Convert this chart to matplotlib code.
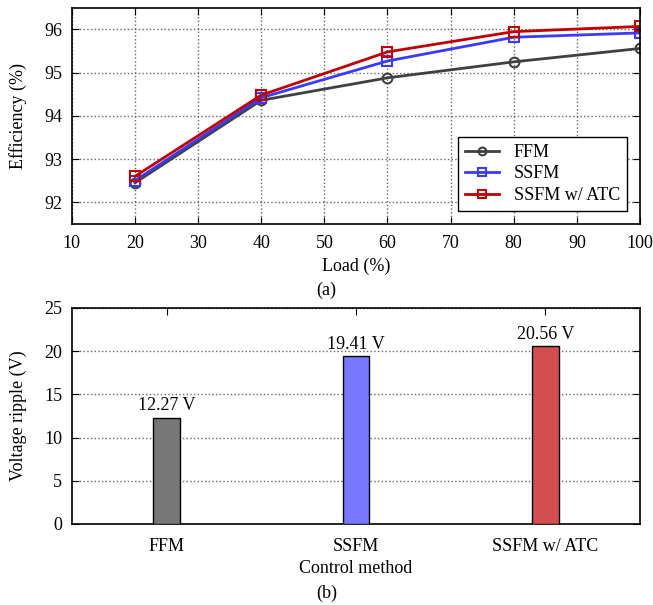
import numpy as np
import matplotlib
matplotlib.use('Agg')
import matplotlib.pyplot as plt

plt.rcParams['font.family'] = ['Liberation Serif', 'DejaVu Serif']
plt.rcParams['font.size'] = 13

load = [20, 40, 60, 80, 100]
eff_ffm = [92.45, 94.36, 94.88, 95.25, 95.56]
eff_ssfm = [92.50, 94.42, 95.27, 95.82, 95.92]
eff_atc = [92.60, 94.48, 95.48, 95.95, 96.07]

methods = ['FFM', 'SSFM', 'SSFM w/ ATC']
ripple = [12.27, 19.41, 20.56]

fig = plt.figure(figsize=(6.53, 6.05), dpi=100)

# (a) efficiency
ax1 = fig.add_axes([0.110, 0.630, 0.870, 0.357])
ax1.plot(load, eff_ffm, color='#404040', marker='o', mfc='none', ms=7, mew=1.5, lw=2, label='FFM')
ax1.plot(load, eff_ssfm, color='#3a3aff', marker='s', mfc='none', ms=7, mew=1.5, lw=2, label='SSFM')
ax1.plot(load, eff_atc, color='#c00000', marker='s', mfc='none', ms=7, mew=1.5, lw=2, label='SSFM w/ ATC')
ax1.set_xlim(10, 100)
ax1.set_ylim(91.5, 96.5)
ax1.set_xticks(np.arange(10, 101, 10))
ax1.set_yticks([92, 93, 94, 95, 96])
ax1.set_xlabel('Load (%)', labelpad=4)
ax1.set_ylabel('Efficiency (%)', labelpad=12)
ax1.grid(True, linestyle=':', color='#666666', lw=1)
ax1.tick_params(direction='in', top=True, right=True, length=5)
ax1.tick_params(axis='x', pad=8)
ax1.tick_params(axis='y', pad=7)
leg = ax1.legend(loc='lower right', fancybox=False, edgecolor='black', framealpha=1,
                 handlelength=1.9, borderaxespad=0.7, markerscale=0.8,
                 labelspacing=0.25, borderpad=0.4)
leg.get_frame().set_linewidth(1)
fig.text(0.5, 0.52, '(a)', ha='center', va='center')

# (b) voltage ripple
ax2 = fig.add_axes([0.110, 0.134, 0.870, 0.357])
x = np.arange(len(methods))
bars = ax2.bar(x, ripple, width=0.14, color=['#777777', '#7777ff', '#d34f4f'],
               edgecolor='black', lw=1, zorder=3)
for xi, v in zip(x, ripple):
    ax2.text(xi, v + 0.4, '%.2f V' % v, ha='center', va='bottom')
ax2.set_xlim(-0.5, 2.5)
ax2.set_ylim(0, 25)
ax2.set_xticks(x)
ax2.set_xticklabels(methods)
ax2.set_yticks(np.arange(0, 26, 5))
ax2.set_xlabel('Control method', labelpad=4)
ax2.set_ylabel('Voltage ripple (V)', labelpad=12)
ax2.grid(True, axis='y', linestyle=':', color='#666666', lw=1)
ax2.tick_params(direction='in', top=True, right=True, length=5)
ax2.tick_params(axis='x', pad=10)
ax2.tick_params(axis='y', pad=7)
fig.text(0.5, 0.02, '(b)', ha='center', va='center')

for ax in (ax1, ax2):
    for s in ax.spines.values():
        s.set_linewidth(1.2)

plt.savefig('out.png', dpi=100)
